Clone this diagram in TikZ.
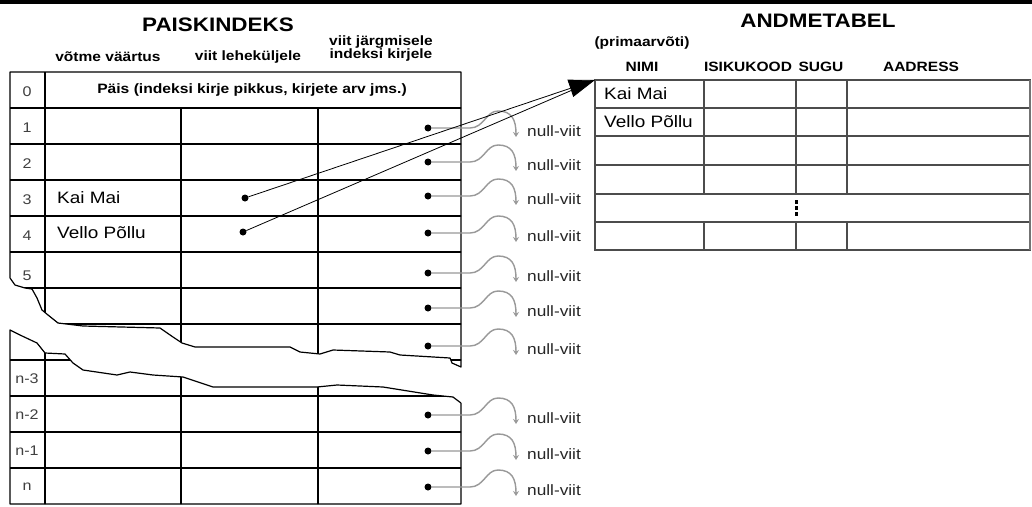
\documentclass[tikz,border=0pt]{standalone}
\usepackage{fontspec}
\setmainfont[FakeStretch=1.15]{Liberation Sans}
\usetikzlibrary{arrows.meta}
\begin{document}
\begin{tikzpicture}[x=1pt,y=-1pt,
  title/.style={font=\bfseries\fontsize{19.5}{21}\selectfont, inner sep=0pt},
  hdr/.style={font=\bfseries\fontsize{13.5}{13}\selectfont, inner sep=0pt, align=center},
  cell/.style={font=\fontsize{16.5}{18}\selectfont, inner sep=0pt, anchor=west},
  idx/.style={font=\fontsize{14}{16}\selectfont, inner sep=0pt, text=black!75},
  nulltxt/.style={font=\fontsize{15}{17}\selectfont, inner sep=0pt, anchor=west, text=black!85},
  dotn/.style={circle, fill=black, inner sep=0pt, minimum size=7pt},
  grid/.style={line width=1.2pt, draw=black, line join=round},
  rgrid/.style={line width=1.2pt, draw=black!70},
  nullptr/.style={draw=black!40, line width=1.4pt, -{Stealth[length=5pt,width=6pt]}},
  keyptr/.style={draw=black, line width=0.8pt},
]
\useasboundingbox (0,0) rectangle (1032,506);
\fill[white] (0,0) rectangle (1032,506);
\fill[black] (0,0) rectangle (1032,3.5);

% titles and headers
\node[title] (t1) at (218,25) {PAISKINDEKS};
\node[title] (t2) at (818,21) {ANDMETABEL};
\node[hdr] (h1) at (108,57) {võtme väärtus};
\node[hdr] (h2) at (248,57) {viit leheküljele};
\node[hdr] (h3) at (381,49) {viit järgmisele\\indeksi kirjele};
\node[hdr] (h4) at (642,43) {(primaarvõti)};
\node[hdr] (h5) at (642,67) {NIMI};
\node[hdr] (h6) at (748,67) {ISIKUKOOD};
\node[hdr] (h7) at (821,67) {SUGU};
\node[hdr] (h8) at (921,67) {AADRESS};

% upper piece of the index table
\begin{scope}
\clip (10,72) -- (461,72) -- (461,367) -- (452,363) -- (450,358) -- (400,355) -- (390,352) -- (333,350) -- (320,354) -- (300,352) -- (290,347) -- (195,347) -- (182,343) -- (173,337) -- (160,328) -- (83,326) -- (58,323) -- (48,315) -- (42,310) -- (37,298) -- (32,289) -- (25,288) -- (15,285) -- (10,278) -- cycle;
\foreach \y in {108,144,...,360} \draw[grid] (0,\y) -- (470,\y);
\draw[grid] (45,60) -- (45,400);
\draw[grid] (181,108) -- (181,400);
\draw[grid] (318,108) -- (318,400);
\end{scope}
\draw[grid] (10,278) -- (10,72) -- (461,72) -- (461,367) -- (452,363) -- (450,358) -- (400,355) -- (390,352) -- (333,350) -- (320,354) -- (300,352) -- (290,347) -- (195,347) -- (182,343) -- (173,337) -- (160,328) -- (83,326) -- (58,323) -- (48,315) -- (42,310) -- (37,298) -- (32,289) -- (25,288) -- (15,285) -- (10,278);

% lower piece of the index table
\begin{scope}
\clip (10,330) -- (20,335) -- (37,343) -- (45,353) -- (65,354) -- (73,363) -- (83,370) -- (117,375) -- (130,372) -- (153,375) -- (183,377) -- (213,387) -- (317,387) -- (337,385) -- (383,387) -- (433,395) -- (453,397) -- (461,403) -- (461,504) -- (10,504) -- cycle;
\foreach \y in {360,396,432,468} \draw[grid] (0,\y) -- (470,\y);
\draw[grid] (45,320) -- (45,510);
\draw[grid] (181,320) -- (181,510);
\draw[grid] (318,320) -- (318,510);
\end{scope}
\draw[grid] (461,403) -- (461,504) -- (10,504) -- (10,330) -- (20,335) -- (37,343) -- (45,353) -- (65,354) -- (73,363) -- (83,370) -- (117,375) -- (130,372) -- (153,375) -- (183,377) -- (213,387) -- (317,387) -- (337,385) -- (383,387) -- (433,395) -- (453,397) -- (461,403);

% index labels
\foreach \n/\lab/\y in {i0/0/92, i1/1/128, i2/2/164, i3/3/200, i4/4/236, i5/5/276, i6/n-3/379, i7/n-2/415, i8/n-1/451, i9/n/487}
  \node[idx] (\n) at (27,\y) {\lab};

\node[font=\bfseries\fontsize{13.6}{15}\selectfont, inner sep=0pt] (p0) at (252,90) {Päis (indeksi kirje pikkus, kirjete arv jms.)};
\node[cell] (k1) at (57,198) {Kai Mai};
\node[cell] (k2) at (57,233) {Vello Põllu};

% data table
\draw[rgrid] (595,80) rectangle (1030,250);
\foreach \y in {108,136,165,194,222} \draw[rgrid] (595,\y) -- (1030,\y);
\foreach \x in {704,796,847} {
  \draw[rgrid] (\x,80) -- (\x,194);
  \draw[rgrid] (\x,222) -- (\x,250);
}
\draw[line width=2.5pt, draw=black!55] (1030,80) -- (1030,250);
\foreach \y in {200,206,212} \fill[black] (795,\y) rectangle (797.5,\y+4);
\node[cell] (r1) at (604,94) {Kai Mai};
\node[cell] (r2) at (604,122) {Vello Põllu};

% null pointers
\foreach \i/\y in {1/128, 2/162, 3/196, 4/233, 5/273, 6/308, 7/346, 8/415, 9/451, 10/487} {
  \node[dotn] (n\i) at (428,\y) {};
  \coordinate (e\i) at (516,\y+9);
  \node[nulltxt] (nt\i) at (527,\y+3) {null-viit};
  \draw[nullptr] (n\i) -- (470,\y) .. controls (484,\y) and (486,\y-17) .. (498,\y-17) .. controls (512,\y-17) and (516,\y-8) .. (e\i);
}

% key pointers to the data table
\node[dotn] (d1) at (245,198) {};
\node[dotn] (d2) at (243,232) {};
\coordinate (tip) at (595,80);
\coordinate (tb) at (577,88);
\draw[keyptr] (d2) -- (tb);
\draw[keyptr, -{Triangle[length=26pt,width=18pt]}] (d1) -- (tip);
\end{tikzpicture}
\end{document}
